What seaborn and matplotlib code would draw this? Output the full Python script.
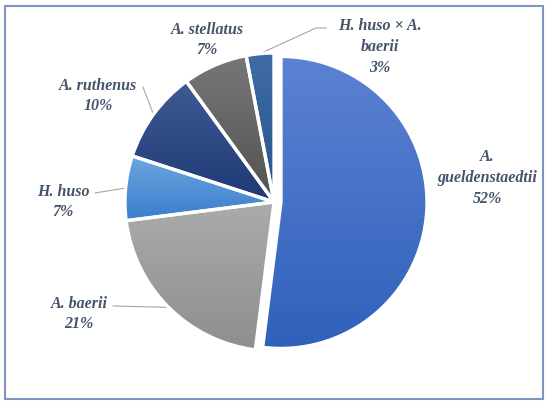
import numpy as np
import seaborn as sns
import matplotlib.pyplot as plt
from matplotlib.colors import to_rgb
from matplotlib.patches import Rectangle

# data
species = ["A.\ngueldenstaedtii", "A. baerii", "H. huso", "A. ruthenus",
           "A. stellatus", "H. huso × A.\nbaerii"]
shares = [52, 21, 7, 10, 7, 3]
# gradient per slice: (top colour, bottom colour)
top_colors = ["#5c82d2", "#ababab", "#6ba6e0", "#405a94", "#777777", "#3f6ca6"]
bottom_colors = ["#2f61bb", "#8e8e8e", "#3a7dcb", "#1e3975", "#525252", "#26548c"]

sns.set_theme(style="white")
plt.rcParams['font.family'] = ['Liberation Serif', 'DejaVu Serif']

W, H = 550, 406
fig = plt.figure(figsize=(5.5, 4.06), dpi=100)
ax = fig.add_axes([0, 0, 1, 1])

cx, cy, r = 274, H - 203, 149
wedges, _ = ax.pie(shares, startangle=90, counterclock=False, center=(cx, cy),
                   radius=r, explode=[7, 0, 0, 0, 0, 0],
                   wedgeprops=dict(edgecolor="white", linewidth=2.4))
wedges[0].set_radius(146)

# gradient fill clipped to each wedge
for w, c0, c1 in zip(wedges, top_colors, bottom_colors):
    ext = w.get_path().get_extents()
    t = np.linspace(0, 1, 200)[:, None]
    grad = (1 - t) * np.array(to_rgb(c0)) + t * np.array(to_rgb(c1))
    im = ax.imshow(grad[:, None, :], extent=[ext.x0, ext.x1, ext.y0, ext.y1],
                   origin="upper", aspect="auto", zorder=1)
    im.set_clip_path(w)
    w.set_facecolor("none")
    w.set_zorder(2)

ax.set_xlim(0, W)
ax.set_ylim(0, H)
ax.set_aspect("equal")
ax.axis("off")

txt_color = "#44546a"
label_pos = [(487, 178), (79, 314), (63, 202), (98, 96), (207, 40), (380, 47)]
for name, val, (lx, ly) in zip(species, shares, label_pos):
    ax.text(lx, H - ly, f"{name}\n{val}%", ha="center", va="center",
            fontsize=11.5, fontweight="bold", fontstyle="italic",
            color=txt_color, linespacing=1.4, zorder=3)

# leader lines: label anchor -> middle of slice arc
leaders = {1: [(113, 307)], 2: [(95, 194)], 3: [(143, 88)], 5: [(326, 29), (316, 29)]}
for i, pts in leaders.items():
    w = wedges[i]
    thm = np.deg2rad((w.theta1 + w.theta2) / 2)
    ex = w.center[0] + w.r * np.cos(thm)
    ey = w.center[1] + w.r * np.sin(thm)
    xs = [p[0] for p in pts] + [ex]
    ys = [H - p[1] for p in pts] + [ey]
    ax.plot(xs, ys, color="#a6a6a6", linewidth=0.8, zorder=0.5)

fig.patches.append(Rectangle((5 / W, 6 / H), 538 / W, 393 / H, transform=fig.transFigure,
                             fill=False, edgecolor="#8094c0", linewidth=1.5))

fig.savefig("out.png", dpi=100, facecolor="white")
